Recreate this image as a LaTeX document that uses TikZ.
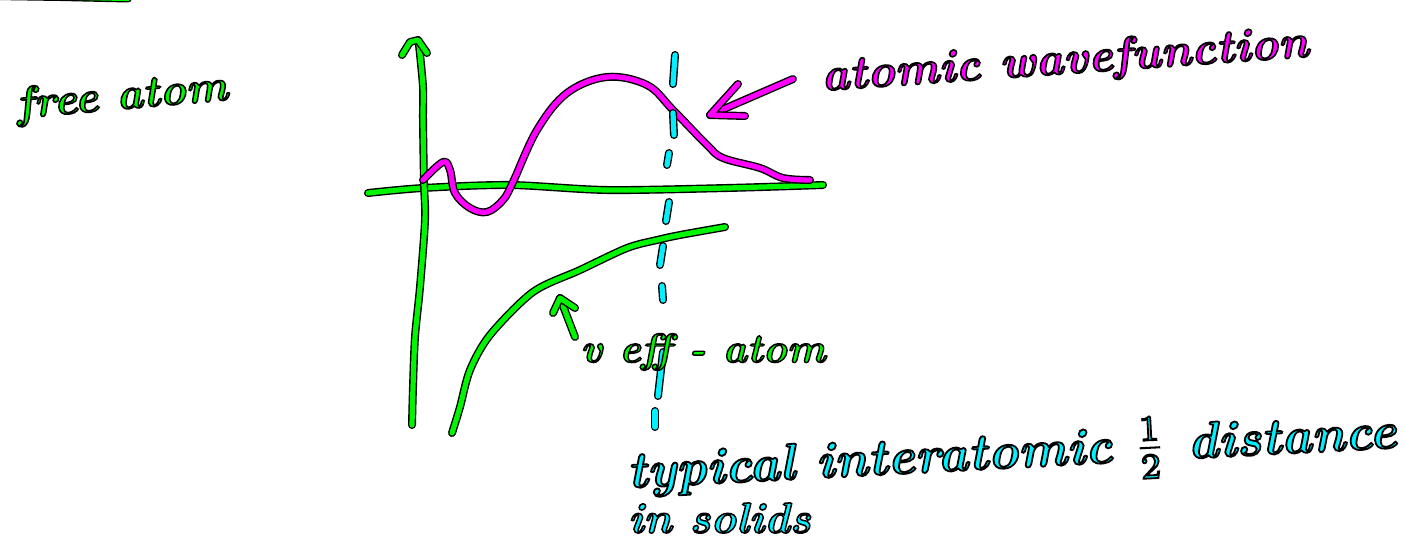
\documentclass[tikz,border=0pt]{standalone}
\usepackage{graphicx}
\definecolor{gr}{RGB}{0,245,0}
\definecolor{mg}{RGB}{255,0,255}
\definecolor{cy}{RGB}{0,240,255}
\newcommand\outl[1]{\special{pdf:literal direct 2 Tr 0.35 w 0 0 0 RG}#1\special{pdf:literal direct 0 Tr}}
\newcommand\hw[2]{\resizebox{#1}{!}{\bfseries\itshape\outl{#2}}}
\newcommand\hh[2]{\resizebox{!}{#1}{\bfseries\itshape\outl{#2}}}
\tikzset{
  pen/.style={preaction={draw=black,line width=8pt,line cap=round,line join=round},
    draw=#1,line width=5.2pt,line cap=round,line join=round},
  lbl/.style={inner sep=0pt,text=#1}
}
\begin{document}
\begin{tikzpicture}[x=1pt,y=-1pt]
\useasboundingbox (0,0) rectangle (1405,546);
\fill[white] (0,0) rectangle (1405,546);
% top-left partial stroke
\draw[pen=gr] (-5,-4) -- (60,-3) -- (128,-1.5);
% horizontal axis
\draw[pen=gr] plot[smooth] coordinates {(368,193) (423,188) (510,185) (607,190) (727,188) (823,185)};
% vertical axis
\draw[pen=gr] plot[smooth] coordinates {(412,425) (413,387) (415,337) (420,287) (425,220) (424,183) (423,120) (423,87) (419,45)};
\draw[pen=gr] (402,55) -- (410,42) -- (418,40) -- (427,53);
% magenta wavefunction
\draw[pen=mg] plot[smooth,tension=0.6] coordinates {(423,180) (443,162) (450,170) (455,193) (470,208) (487,212) (503,200) (513,182) (537,130) (567,93) (607,77) (647,85) (673,110) (707,145) (723,158) (760,168) (783,178) (810,180)};
% magenta arrow
\draw[pen=mg] (793,79) -- (710,115);
\draw[pen=mg] (738,84) -- (710,115) -- (745,116);
% V_eff curve
\draw[pen=gr] plot[smooth] coordinates {(452,433) (460,407) (470,370) (490,335) (533,292) (580,270) (627,248) (657,240) (680,235) (725,227)};
% small green arrow
\draw[pen=gr] (575,337) -- (560,298);
\draw[pen=gr] (553,313) -- (560,298) -- (575,308);
% cyan dashed line
\foreach \a/\b in {{(675,55)/(673,84)},{(673,113)/(674,135)},{(669,153)/(667,165)},{(669,202)/(666,221)},{(663,246)/(660,265)},{(662,286)/(663,300)},{(663,352)/(658,396)},{(655,411)/(655,427)}}
  \draw[pen=cy] \a -- \b;
% texts
\node[lbl=gr,rotate=5] (free) at (122,98) {\hw{212pt}{free atom}};
\node[lbl=mg,rotate=4] (wave) at (1065,62) {\hw{488pt}{atomic wavefunction}};
\node[lbl=gr] (veff) at (703,352) {\hw{245pt}{v eff - atom}};
\node[lbl=cy,rotate=3] (typ) at (1012,455) {\hw{770pt}{typical interatomic $\frac{1}{2}$ distance}};
\node[lbl=cy,anchor=west] (sol) at (628,518) {\hh{30pt}{in solids}};
\end{tikzpicture}
\end{document}
